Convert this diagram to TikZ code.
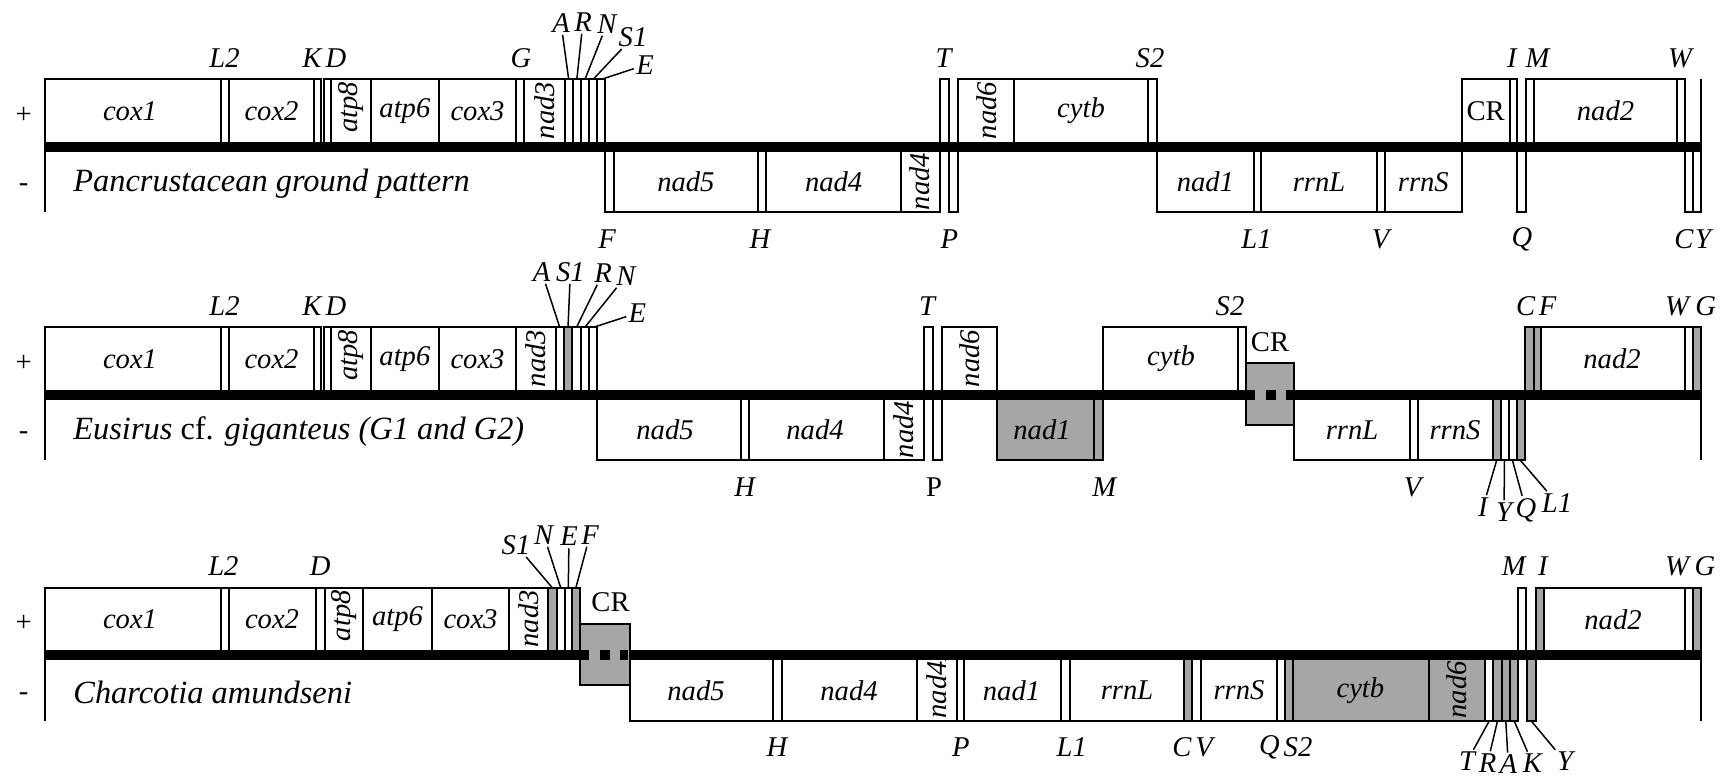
\documentclass[tikz,border=0pt]{standalone}
\usepackage{fontspec}
\setmainfont{Liberation Serif}
\usepackage{tikz}
\definecolor{mShade}{HTML}{A6A6A6}

\begin{document}
\begin{tikzpicture}[x=0.5pt, y=-0.5pt,
    every node/.style={font=\fontsize{14.3}{17}\selectfont\rmfamily\itshape, inner sep=1pt},
    box/.style={draw, line width=1pt, fill=white},
    gbox/.style={box, fill=mShade},
    edge/.style={line width=1pt},
    bar/.style={line width=5pt},
    lead/.style={line width=0.75pt},
    vlab/.style={rotate=90, inner sep=0pt},
    up/.style={font=\fontsize{14.3}{17}\selectfont\rmfamily\upshape},
    spec/.style={font=\fontsize{16.2}{19}\selectfont\rmfamily\itshape, anchor=west}]
  \useasboundingbox (0,0) rectangle (1726,779);

  % row 1
  \begin{scope}
    \foreach \a/\b in {44.7/220.6, 220.6/229.3, 229.3/313.6, 313.6/320.8, 324/331.4, 331.4/370.9, 370.9/438.9, 438.9/516, 516/524, 524/564.7, 564.7/572.8, 572.8/580.9, 580.9/588.9, 588.9/597, 597/605, 939.7/949.3, 958.1/1014.4, 1014.4/1147.5, 1147.5/1156.7, 1461.5/1510, 1510/1517.4, 1525.5/1534, 1534/1677, 1677/1684.5}
      \draw[box] (\a,79.5) rectangle (\b,147);
    \foreach \a/\b in {605/613.7, 613.7/758, 758/766.4, 766.4/900.7, 900.7/939.7, 949.3/958.1, 1156.7/1254, 1254/1261.3, 1261.3/1376.7, 1376.7/1385, 1385/1461.5, 1517.4/1525.5, 1684.5/1693, 1693/1701}
      \draw[box] (\a,147) rectangle (\b,212.5);
    \foreach \x/\t in {130/cox1, 271.5/cox2, 404.9/atp6, 477.5/cox3, 1081/cytb, 1605.5/nad2}
      \node (r1\t) at (\x,111) {\t};
    \node[up] (r1CR) at (1485.7,111) {CR};
    \foreach \x/\t in {685.9/nad5, 833.6/nad4, 1205.4/nad1, 1319/rrnL, 1423.3/rrnS}
      \node (r1\t) at (\x,182) {\t};
    \foreach \a/\b/\t in {331.4/370.9/atp8, 524/564.7/nad3, 958.1/1014.4/nad6}{
      \begin{scope}
        \clip (\a,79.5) rectangle (\b,147);
        \node[vlab, anchor=east] (r1\t) at ({(\a+\b)/2},81.5) {\t};
      \end{scope}}
    \begin{scope}
      \clip (900.7,147) rectangle (939.7,212.5);
      \node[vlab, anchor=west] (r1nad4L) at (920.2,210.5) {nad4L};
    \end{scope}
    \draw[bar] (44.7,147) -- (1701,147);
    \draw[edge] (44.7,79.5) -- (44.7,212.5) (1701,79.5) -- (1701,212.5);
    \foreach \x/\t in {224.6/L2, 312/K, 336/D, 521/G, 943.6/T, 1150/S2, 1512/I, 1537.6/M, 1680/W}
      \node (r1\t) at (\x,58) {\t};
    \foreach \x/\t in {607/F, 760/H, 949.3/P, 1256.5/L1, 1380.5/V, 1522/Q, 1684/C, 1703/Y}
      \node (r1\t) at (\x,239) {\t};
    \foreach \n/\bx/\lx/\ly in {A/568.7/561/23, R/576.8/583/22, N/584.9/607/24, S1/593/633/37, E/601/645/65}{
      \coordinate (r1b\n) at (\bx,79.5);
      \node (r1\n) at (\lx,\ly) {\n};
      \draw[lead] (r1b\n) -- (r1\n);}
    \node[up] (r1plus) at (23.7,115) {+};
    \node[up] (r1minus) at (23.7,188) {-};
    \node[spec] (r1name) at (71,184) {Pancrustacean ground pattern};
  \end{scope}

  % row 2
  \begin{scope}[shift={(0,248)}]
    \foreach \a/\b in {44.7/220.6, 220.6/229.3, 229.3/313.6, 313.6/320.8, 324/331.4, 331.4/370.9, 370.9/438.9, 438.9/516, 516/555.6, 555.6/563.9, 572.2/580.6, 580.6/588.9, 588.9/597.2, 923.7/932.9, 941.7/997.1, 1103/1238.2, 1238.2/1246.3, 1541.3/1684.5, 1684.5/1693}
      \draw[box] (\a,79.5) rectangle (\b,147);
    \foreach \a/\b in {563.9/572.2, 1524.7/1533.9, 1533.9/1541.3, 1693/1701}
      \draw[gbox] (\a,79.5) rectangle (\b,147);
    \foreach \a/\b in {597.2/740.7, 740.7/749.2, 749.2/884.3, 884.3/923.7, 932.9/941.7, 1294.4/1410, 1410/1418.2, 1418.2/1492.7, 1500.6/1508.5, 1508.5/1516.5}
      \draw[box] (\a,147) rectangle (\b,212.5);
    \foreach \a/\b in {997.1/1094, 1094/1103, 1492.7/1500.6, 1516.5/1524.5}
      \draw[gbox] (\a,147) rectangle (\b,212.5);
    \foreach \x/\t in {130/cox1, 271.5/cox2, 404.9/atp6, 477.5/cox3, 1171/cytb, 1612/nad2}
      \node (r2\t) at (\x,111) {\t};
    \foreach \x/\t in {665/nad5, 815/nad4, 1042/nad1, 1352/rrnL, 1455/rrnS}
      \node (r2\t) at (\x,182) {\t};
    \foreach \a/\b/\t in {331.4/370.9/atp8, 516/555.6/nad3, 941.7/997.1/nad6}{
      \begin{scope}
        \clip (\a,79.5) rectangle (\b,147);
        \node[vlab, anchor=east] (r2\t) at ({(\a+\b)/2},81.5) {\t};
      \end{scope}}
    \begin{scope}
      \clip (884.3,147) rectangle (923.7,212.5);
      \node[vlab, anchor=west] (r2nad4L) at (904,210.5) {nad4L};
    \end{scope}
    \draw[bar] (44.7,147) -- (1701,147);
    \draw[edge] (44.7,79.5) -- (44.7,212.5) (1701,79.5) -- (1701,212.5);
    \draw[gbox] (1246.3,115.5) rectangle (1294.4,177);
    \draw[bar, dash pattern=on 4.25pt off 5.5pt on 5pt off 5pt] (1246.3,147) -- (1294.4,147);
    \node[up] (r2CR) at (1270,94) {CR};
    \foreach \x/\t in {224.6/L2, 312/K, 336/D, 927/T, 1230/S2, 1525.7/C, 1547.7/F, 1677/W, 1705.7/G}
      \node (r2\t) at (\x,58.5) {\t};
    \foreach \x/\t in {744.6/H, 1104.3/M, 1412.7/V}
      \node (r2\t) at (\x,239) {\t};
    \node[up] (r2P) at (934,239) {P};
    \foreach \n/\bx/\lx/\ly in {A/559.8/541.7/24, S1/568/570.4/24, R/576.4/603/25, N/584.7/626/28, E/593/637.4/65}{
      \coordinate (r2b\n) at (\bx,79.5);
      \node (r2\n) at (\lx,\ly) {\n};
      \draw[lead] (r2b\n) -- (r2\n);}
    \foreach \n/\bx/\lx/\ly in {I/1496.6/1483/259, Y/1504.5/1504/264, Q/1512.5/1526/262, L1/1520.5/1557/255}{
      \coordinate (r2b\n) at (\bx,212.5);
      \node (r2\n) at (\lx,\ly) {\n};
      \draw[lead] (r2b\n) -- (r2\n);}
    \node[up] (r2plus) at (23.7,115) {+};
    \node[up] (r2minus) at (23.7,188) {-};
    \node[spec] (r2name) at (71,184) {Eusirus \upshape cf. \itshape giganteus (G1 and G2)};
  \end{scope}

  % row 3
  \begin{scope}[shift={(0,508.5)}]
    \foreach \a/\b in {44.7/220.6, 220.6/229.3, 229.3/315.5, 315.5/324.8, 324.8/363.3, 363.3/431.7, 431.7/509.3, 509.3/548.3, 556.7/565, 565/571.7, 1518.3/1526, 1544.2/1684.5, 1684.5/1693}
      \draw[box] (\a,79.5) rectangle (\b,147);
    \foreach \a/\b in {548.3/556.7, 571.7/580, 1536/1544.2, 1693/1701}
      \draw[gbox] (\a,79.5) rectangle (\b,147);
    \foreach \a/\b in {629.8/772.5, 772.5/782, 782/916.8, 916.8/957, 957/963.9, 963.9/1061.4, 1061.4/1069.9, 1069.9/1183.8, 1192.2/1201.4, 1201.4/1276.7, 1276.7/1285.2, 1485/1493.3}
      \draw[box] (\a,147) rectangle (\b,212.5);
    \foreach \a/\b in {1183.8/1192.2, 1285.2/1293.3, 1293.3/1429.2, 1429.2/1485, 1493.3/1501.7, 1501.7/1510, 1510/1518.3, 1526.7/1536}
      \draw[gbox] (\a,147) rectangle (\b,212.5);
    \foreach \x/\t in {130/cox1, 272/cox2, 397.5/atp6, 470.5/cox3, 1613/nad2}
      \node (r3\t) at (\x,111) {\t};
    \foreach \x/\t in {696/nad5, 849/nad4, 1011.5/nad1, 1127/rrnL, 1239/rrnS, 1360.4/cytb}
      \node (r3\t) at (\x,182) {\t};
    \foreach \a/\b/\t in {324.8/363.3/atp8, 509.3/548.3/nad3}{
      \begin{scope}
        \clip (\a,79.5) rectangle (\b,147);
        \node[vlab, anchor=east] (r3\t) at ({(\a+\b)/2},81.5) {\t};
      \end{scope}}
    \foreach \a/\b/\t in {916.8/957/nad4L, 1429.2/1485/nad6}{
      \begin{scope}
        \clip (\a,147) rectangle (\b,212.5);
        \node[vlab, anchor=west] (r3\t) at ({(\a+\b)/2},210.5) {\t};
      \end{scope}}
    \draw[bar] (44.7,147) -- (1701,147);
    \draw[edge] (44.7,79.5) -- (44.7,212.5) (1701,79.5) -- (1701,212.5);
    \draw[gbox] (580,115.5) rectangle (629.8,177);
    \draw[bar, dash pattern=on 4.25pt off 5.5pt on 5pt off 5pt] (580,147) -- (629.8,147);
    \node[up] (r3CR) at (610.5,93.5) {CR};
    \foreach \x/\t in {223.4/L2, 320.3/D, 1513.7/M, 1543/I, 1677/W, 1705/G}
      \node (r3\t) at (\x,58) {\t};
    \foreach \x/\t in {777/H, 960.8/P, 1071.8/L1, 1182/C, 1204/V, 1269.4/Q, 1298/S2}
      \node (r3\t) at (\x,238.5) {\t};
    \foreach \n/\bx/\lx/\ly in {S1/552.5/516/36.5, N/560.8/543.7/26.5, E/568.3/569/28, F/575.8/590/26.5}{
      \coordinate (r3b\n) at (\bx,79.5);
      \node (r3\n) at (\lx,\ly) {\n};
      \draw[lead] (r3b\n) -- (r3\n);}
    \foreach \n/\bx/\lx/\ly in {T/1489.2/1467/253, R/1497.5/1487.5/254.5, A/1505.8/1508.3/256, K/1514.2/1532.5/255, Y/1531.3/1565/253}{
      \coordinate (r3b\n) at (\bx,212.5);
      \node (r3\n) at (\lx,\ly) {\n};
      \draw[lead] (r3b\n) -- (r3\n);}
    \node[up] (r3plus) at (23.7,115) {+};
    \node[up] (r3minus) at (23.7,188) {-};
    \node[spec] (r3name) at (71,184) {Charcotia amundseni};
  \end{scope}
\end{tikzpicture}
\end{document}
